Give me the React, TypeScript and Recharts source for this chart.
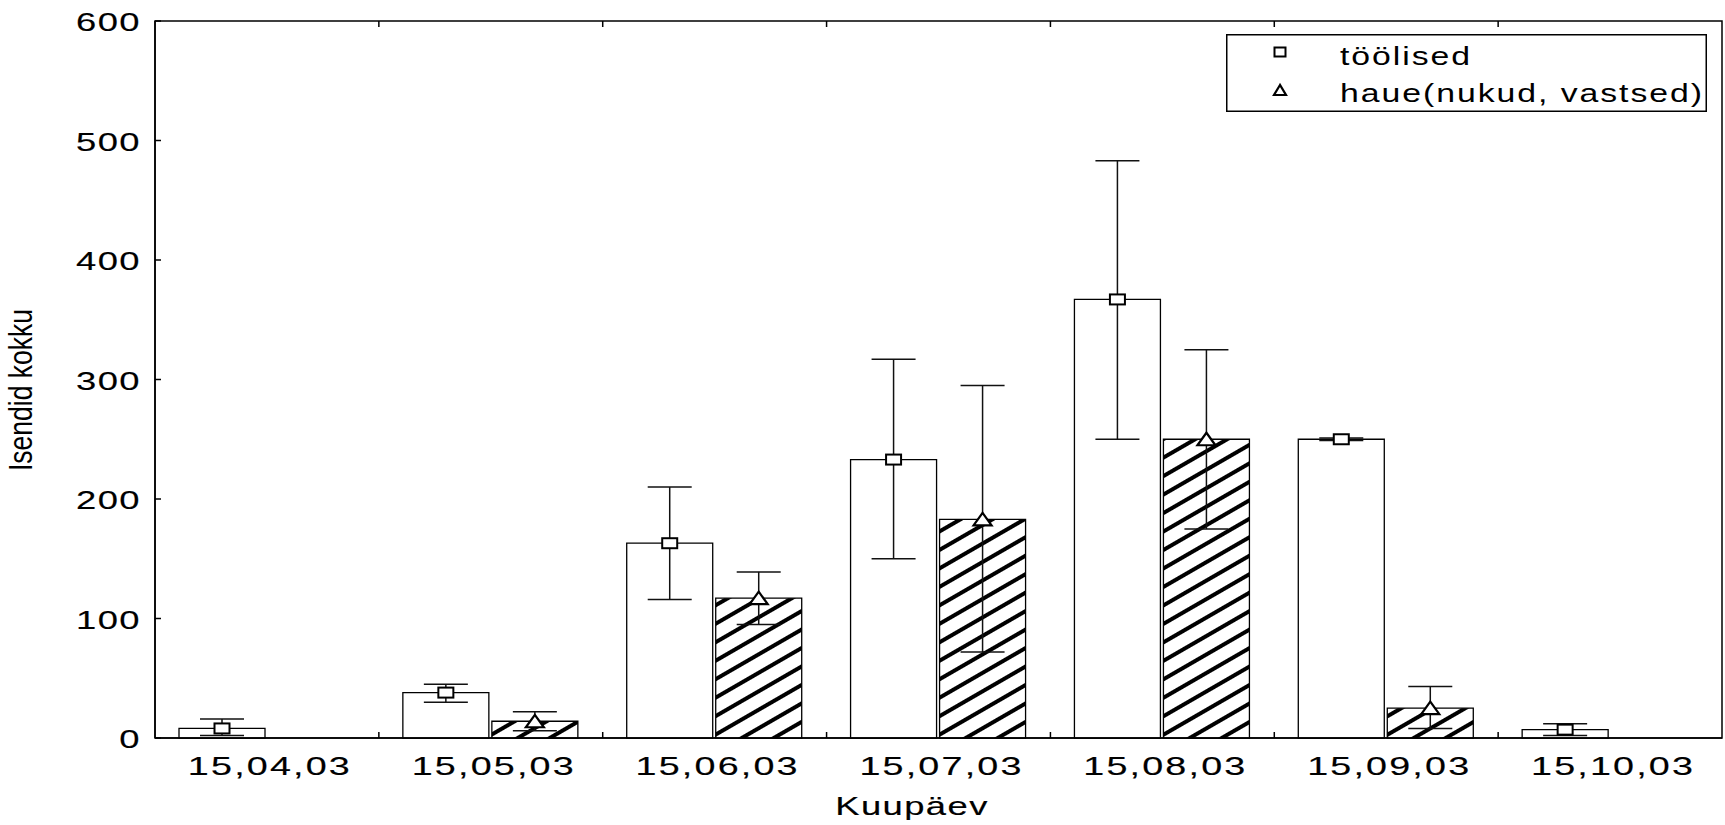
import React from 'react';
import { ComposedChart, Bar, XAxis, YAxis, ErrorBar, LabelList, ReferenceArea, Legend } from 'recharts';

const dates = ['15,04,03', '15,05,03', '15,06,03', '15,07,03', '15,08,03', '15,09,03', '15,10,03'];
const seriesNames = ['töölised', 'haue(nukud, vastsed)'];

const tool = [8, 38, 163, 233, 367, 250, 7];
const toolLo = [2, 30, 116, 150, 250, 249, 2];
const toolHi = [16, 45, 210, 317, 483, 251, 12];

const haue = [0, 14, 117, 183, 250, 25, 0];
const haueLo = [0, 6, 95, 72, 175, 8, 0];
const haueHi = [0, 22, 139, 295, 325, 43, 0];

const yTicks = [0, 100, 200, 300, 400, 500, 600];

const data = dates.map((date, i) => ({
  date,
  tool: tool[i],
  toolErr: [tool[i] - toolLo[i], toolHi[i] - tool[i]],
  haue: haue[i],
  haueErr: [haue[i] - haueLo[i], haueHi[i] - haue[i]],
}));

const FONT = "'Liberation Sans', Arial, sans-serif";
const PLOT_H = 717; // plot area height, used for the inner ticks on the top edge

function StretchText({ px, py, anchor = 'start', size = 26, spacing = 1.5, sx = 1.3, bold = 0, children }: any) {
  return (
    <text
      transform={`translate(${px},${py}) scale(${sx},1)`}
      textAnchor={anchor}
      fontFamily={FONT}
      fontSize={size}
      letterSpacing={spacing}
      fill="#000"
      stroke={bold ? '#000' : 'none'}
      strokeWidth={bold}
    >
      {children}
    </text>
  );
}

function VText({ px, py, children }: any) {
  return (
    <text
      transform={`translate(${px},${py}) rotate(-90) scale(0.78,1)`}
      textAnchor="middle"
      fontFamily={FONT}
      fontSize={34}
      fill="#000"
    >
      {children}
    </text>
  );
}

const YTick = (p: any) => (
  <g>
    <line x1={p.x} x2={p.x + 6} y1={p.y} y2={p.y} stroke="#000" strokeWidth={1.5} />
    <StretchText px={p.x - 14} py={p.y + 10} anchor="end" spacing={1} sx={1.4} bold={0.15}>
      {p.payload.value}
    </StretchText>
  </g>
);

const XTick = (p: any) => {
  const bx = p.x - (p.payload.offset || 0);
  return (
    <g>
      {p.index > 0 && (
        <g stroke="#000" strokeWidth={1.5}>
          <line x1={bx} x2={bx} y1={p.y} y2={p.y - 6} />
          <line x1={bx} x2={bx} y1={p.y - PLOT_H} y2={p.y - PLOT_H + 6} />
        </g>
      )}
      <StretchText px={p.x + 3} py={p.y + 37} anchor="middle" spacing={1.5} sx={1.45} bold={0.15}>
        {p.payload.value}
      </StretchText>
    </g>
  );
};

const SquareMark = (p: any) => {
  const cx = p.x + p.width / 2;
  const cy = p.y;
  return <rect x={cx - 7.5} y={cy - 5} width={15} height={10} fill="#fff" stroke="#000" strokeWidth={2} />;
};

const TriangleMark = (p: any) => {
  const cx = p.x + p.width / 2;
  const cy = p.y;
  return (
    <polygon
      points={`${cx},${cy - 6.5} ${cx - 9},${cy + 6} ${cx + 9},${cy + 6}`}
      fill="#fff"
      stroke="#000"
      strokeWidth={2.2}
    />
  );
};

const LegendBox = () => (
  <svg width={481} height={78} style={{ display: 'block' }}>
    <rect x={0.75} y={0.75} width={479.5} height={76.5} fill="#fff" stroke="#000" strokeWidth={1.5} />
    <rect x={48.5} y={13.5} width={11} height={9} fill="#fff" stroke="#000" strokeWidth={2} />
    <StretchText px={114} py={31}>{seriesNames[0]}</StretchText>
    <polygon points="54,51 48,61 60,61" fill="#fff" stroke="#000" strokeWidth={2.2} />
    <StretchText px={114} py={68}>{seriesNames[1]}</StretchText>
  </svg>
);

export default function App() {
  return (
    <div style={{ position: 'absolute', left: 0, top: 0 }}>
      <ComposedChart
        width={1725}
        height={825}
        data={data}
        margin={{ top: 21, right: 3, bottom: 0, left: 0 }}
        barSize={86}
        barGap={3}
      >
        <defs>
          <pattern id="hatch" patternUnits="userSpaceOnUse" width={16} height={16} patternTransform="rotate(-30)">
            <rect width={16} height={16} fill="#fff" />
            <rect y={0} width={16} height={4} fill="#000" />
          </pattern>
        </defs>
        <XAxis
          dataKey="date"
          height={87}
          interval={0}
          tickSize={0}
          tickMargin={0}
          tickLine={false}
          axisLine={{ stroke: '#000', strokeWidth: 1.5 }}
          tick={XTick}
          label={
            <StretchText px={912} py={815} anchor="middle" spacing={1} sx={1.4} bold={0.15}>
              Kuupäev
            </StretchText>
          }
        />
        <YAxis
          domain={[0, 600]}
          ticks={yTicks}
          width={155}
          tickSize={0}
          tickMargin={0}
          tickLine={false}
          axisLine={{ stroke: '#000', strokeWidth: 1.5 }}
          tick={YTick}
          label={<VText px={32} py={390}>Isendid kokku</VText>}
        />
        <ReferenceArea y1={0} y2={600} fill="none" stroke="#000" strokeWidth={1.5} />
        <Legend
          layout="vertical"
          align="center"
          verticalAlign="middle"
          wrapperStyle={{ left: 1226, top: 34, width: 481, height: 78 }}
          content={LegendBox}
        />
        <Bar dataKey="tool" name={seriesNames[0]} fill="#fff" stroke="#000" strokeWidth={1.3} isAnimationActive={false}>
          <ErrorBar dataKey="toolErr" width={22} stroke="#111" strokeWidth={1.5} isAnimationActive={false} />
          <LabelList dataKey="tool" content={SquareMark} />
        </Bar>
        <Bar dataKey="haue" name={seriesNames[1]} fill="url(#hatch)" stroke="#000" strokeWidth={1.3} isAnimationActive={false}>
          <ErrorBar dataKey="haueErr" width={22} stroke="#111" strokeWidth={1.5} isAnimationActive={false} />
          <LabelList dataKey="haue" content={TriangleMark} />
        </Bar>
      </ComposedChart>
    </div>
  );
}
